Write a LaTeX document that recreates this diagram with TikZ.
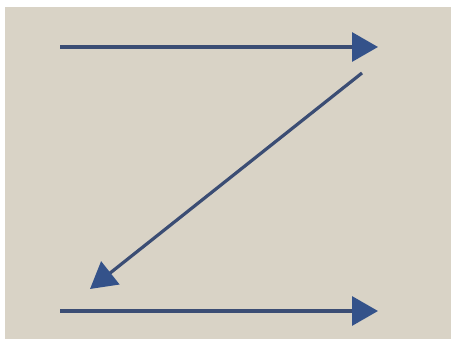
\documentclass[tikz,border=0pt]{standalone}
\usepackage{xcolor}
\usetikzlibrary{arrows.meta}
\definecolor{paperBeige}{HTML}{D9D3C6}
\definecolor{arrowNavy}{HTML}{34528A}
\definecolor{lineNavy}{HTML}{3B4D74}

\begin{document}
\begin{tikzpicture}[
  x=1pt, y=1pt,
  zArrow/.style={draw=lineNavy, line width=3.2pt, -{Triangle[length=26pt, width=29pt, fill=arrowNavy, color=arrowNavy]}}
]

  % canvas with white margin
  \useasboundingbox (0,0) rectangle (454,339);
  \fill[white] (0,0) rectangle (454,339);
  \fill[paperBeige] (5,0) rectangle (451,332);

  \coordinate (topStart) at (60,292);
  \coordinate (topEnd) at (378,292);
  \coordinate (diagStart) at (362,266);
  \coordinate (diagEnd) at (90,50);
  \coordinate (botStart) at (60,28);
  \coordinate (botEnd) at (378,28);

  \draw[zArrow] (topStart) -- (topEnd);
  \draw[zArrow] (diagStart) -- (diagEnd);
  \draw[zArrow] (botStart) -- (botEnd);

\end{tikzpicture}
\end{document}
